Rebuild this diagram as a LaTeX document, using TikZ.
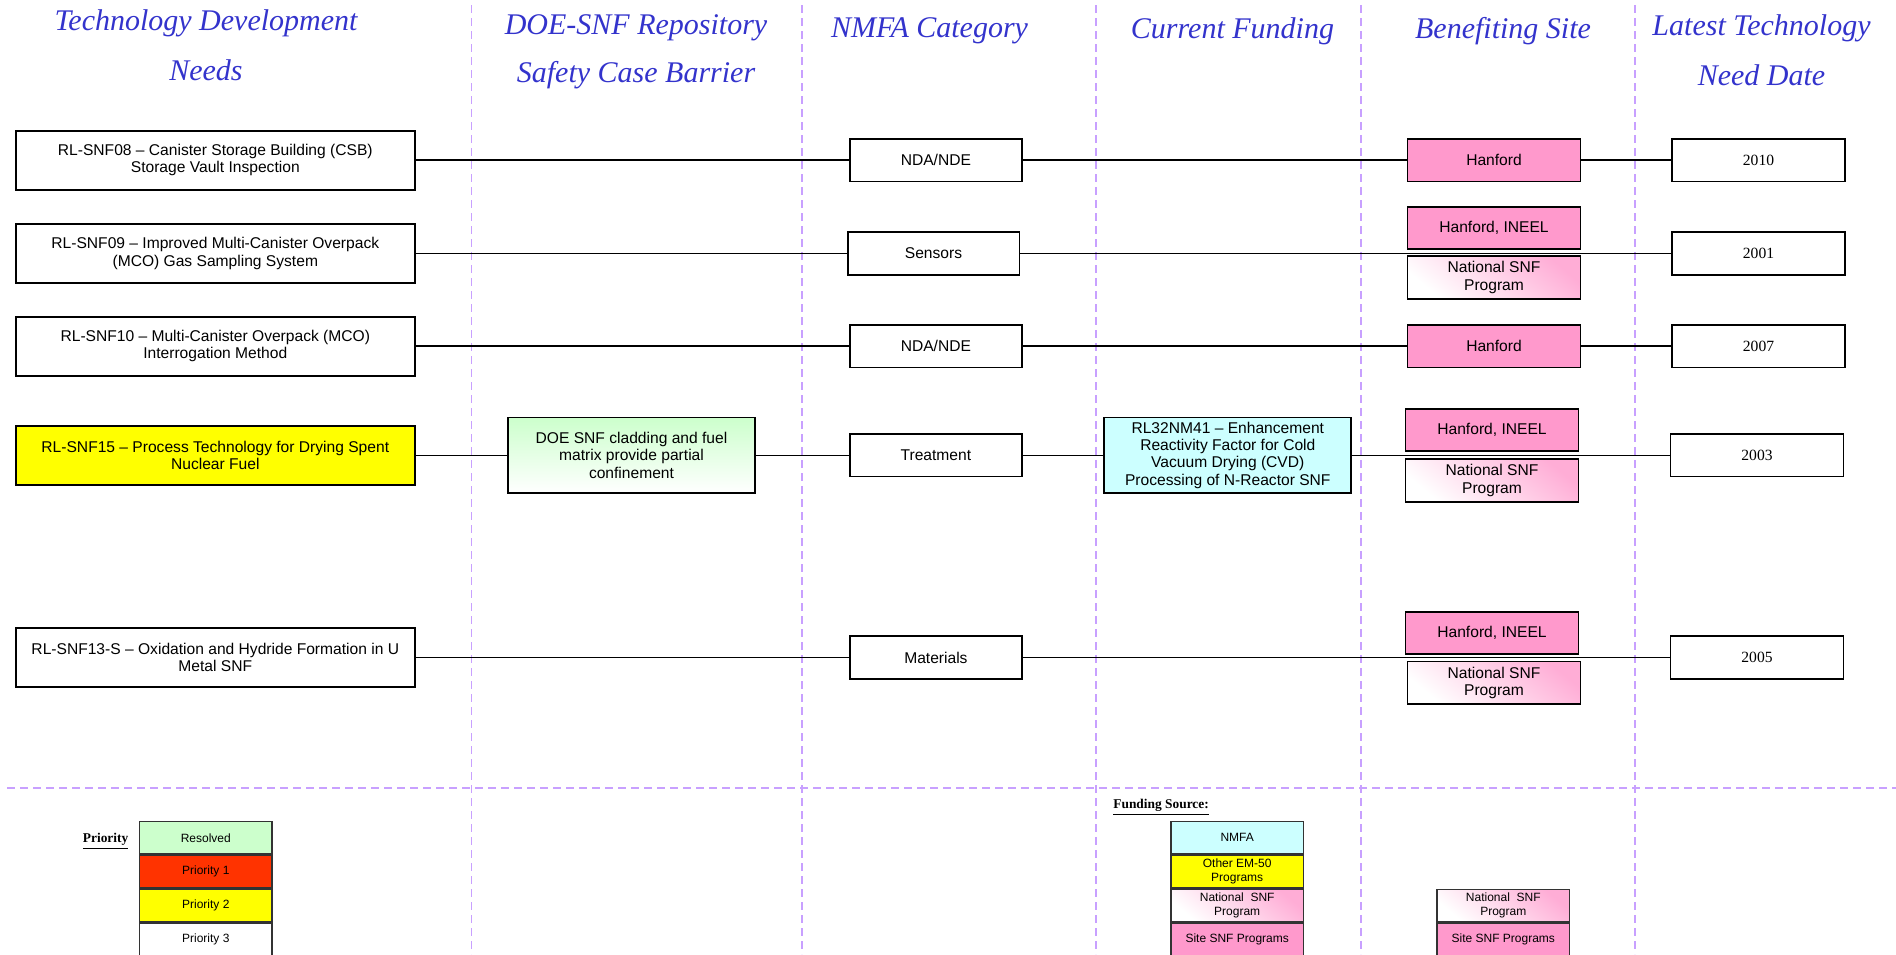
\documentclass[tikz,border=0pt]{standalone}
\usepackage{fontspec}
\setmainfont{Liberation Serif}
\setsansfont{Liberation Sans}
\definecolor{hdr}{RGB}{51,51,204}
\definecolor{guidec}{RGB}{200,160,255}
\definecolor{sitepink}{RGB}{255,153,204}
\definecolor{resgreen}{RGB}{204,255,204}
\definecolor{nmfacyan}{RGB}{204,255,255}
\definecolor{prio1}{RGB}{255,51,0}
\definecolor{prio2}{RGB}{255,255,0}
\begin{document}
\begin{tikzpicture}[x=0.5pt,y=-0.5pt,
  box/.style={draw=black, line width=0.9pt, inner sep=0pt, align=center,
    font=\sffamily\fontsize{7.8}{8.6}\selectfont},
  need/.style={box, minimum width=199.5pt, minimum height=29.6pt, fill=white},
  nmfa/.style={box, minimum width=85.9pt, minimum height=21.2pt, fill=white},
  site/.style={box, minimum width=86.5pt, minimum height=21.2pt, fill=sitepink},
  natl/.style={box, minimum width=86.5pt, minimum height=21.2pt,
    top color=sitepink!80, bottom color=white, shading angle=-40},
  datebox/.style={box, minimum width=86.5pt, minimum height=21.2pt, fill=white,
    font=\rmfamily\fontsize{7.8}{8.6}\selectfont},
  big/.style={box, minimum width=123.5pt, minimum height=37.8pt},
  leg/.style={draw=black!80, line width=0.8pt, inner sep=0pt, align=center,
    minimum width=66.2pt, minimum height=16.2pt,
    font=\sffamily\fontsize{6}{6.9}\selectfont},
  legnatl/.style={leg, top color=sitepink!80, bottom color=white, shading angle=-40},
  hdrtext/.style={font=\itshape\fontsize{15}{18}\selectfont, text=hdr, inner sep=0pt},
  legtitle/.style={font=\bfseries\fontsize{6.7}{8}\selectfont, inner sep=0pt},
  guide/.style={draw=guidec, line width=0.6pt, dash pattern=on 4pt off 2.5pt},
  conn/.style={draw=black, line width=0.75pt}
]
\useasboundingbox (0,0) rectangle (1896,954);
\clip (0,0) rectangle (1896,954);

% guides
\foreach \gx in {471.5,802,1096,1361,1635}
  \draw[guide] (\gx,5) -- (\gx,954);
\draw[guide] (7,788) -- (1896,788);

% headers
\node[hdrtext] (h1a) at (206,23) {Technology Development};
\node[hdrtext] (h1b) at (206,70) {Needs};
\node[hdrtext] (h2a) at (636,28) {DOE-SNF Repository};
\node[hdrtext] (h2b) at (636,75) {Safety Case Barrier};
\node[hdrtext] (h3) at (929.5,31) {NMFA Category};
\node[hdrtext] (h4) at (1232.5,31) {Current Funding};
\node[hdrtext] (h5) at (1503,31) {Benefiting Site};
\node[hdrtext] (h6a) at (1761.5,28) {Latest Technology};
\node[hdrtext] (h6b) at (1761.5,75) {Need Date};

% row 1
\node[need] (n1) at (215.3,160.2) {RL-SNF08 -- Canister Storage Building (CSB)\\Storage Vault Inspection};
\node[nmfa] (c1) at (935.9,160.2) {NDA/NDE};
\node[site] (s1) at (1494,160.2) {Hanford};
\node[datebox] (d1) at (1758.5,160.2) {2010};
\draw[conn] (n1) -- (c1);
\draw[conn] (c1) -- (s1);
\draw[conn] (s1) -- (d1);

% row 2
\node[need] (n2) at (215.3,253.5) {RL-SNF09 -- Improved Multi-Canister Overpack\\(MCO) Gas Sampling System};
\node[nmfa] (c2) at (933.5,253.5) {Sensors};
\node[site] (s2a) at (1494,228) {Hanford, INEEL};
\node[natl] (s2b) at (1494,277.5) {National SNF\\Program};
\node[datebox] (d2) at (1758.5,253.5) {2001};
\draw[conn] (n2) -- (c2);
\draw[conn] (c2) -- (d2);

% row 3
\node[need] (n3) at (215.3,346.2) {RL-SNF10 -- Multi-Canister Overpack (MCO)\\Interrogation Method};
\node[nmfa] (c3) at (935.9,346.2) {NDA/NDE};
\node[site] (s3) at (1494,346.2) {Hanford};
\node[datebox] (d3) at (1758.5,346.2) {2007};
\draw[conn] (n3) -- (c3);
\draw[conn] (c3) -- (s3);
\draw[conn] (s3) -- (d3);

% row 4
\node[need, fill=prio2] (n4) at (215.3,455.3) {RL-SNF15 -- Process Technology for Drying Spent\\Nuclear Fuel};
\node[big, top color=resgreen, bottom color=white] (b4) at (631.5,455.3) {DOE SNF cladding and fuel\\matrix provide partial\\confinement};
\node[nmfa] (c4) at (935.9,455.3) {Treatment};
\node[big, fill=nmfacyan] (f4) at (1227.8,455.3) {RL32NM41 -- Enhancement\\Reactivity Factor for Cold\\Vacuum Drying (CVD)\\Processing of N-Reactor SNF};
\node[site] (s4a) at (1492,430) {Hanford, INEEL};
\node[natl] (s4b) at (1492,480.5) {National SNF\\Program};
\node[datebox] (d4) at (1757,455.3) {2003};
\draw[conn] (n4) -- (b4);
\draw[conn] (b4) -- (c4);
\draw[conn] (c4) -- (f4);
\draw[conn] (f4) -- (d4);

% row 5
\node[need] (n5) at (215.3,657.5) {RL-SNF13-S -- Oxidation and Hydride Formation in U\\Metal SNF};
\node[nmfa] (c5) at (935.9,657.5) {Materials};
\node[site] (s5a) at (1492,633) {Hanford, INEEL};
\node[natl] (s5b) at (1494,682.6) {National SNF\\Program};
\node[datebox] (d5) at (1757,657.5) {2005};
\draw[conn] (n5) -- (c5);
\draw[conn] (c5) -- (d5);

% legend: priority
\node[legtitle] (pt) at (105.6,841) {\underline{Priority}};
\node[leg, fill=resgreen] (l1) at (205.8,837.7) {Resolved};
\node[leg, fill=prio1] (l2) at (205.8,871.5) {Priority 1};
\node[leg, fill=prio2] (l3) at (205.8,905.5) {Priority 2};
\node[leg, fill=white] (l4) at (205.8,939.5) {Priority 3};

% legend: funding
\node[legtitle, anchor=west] (ft) at (1113,807) {\underline{Funding Source:}};
\node[leg, fill=nmfacyan] (g1) at (1237.2,837.7) {NMFA};
\node[leg, fill=prio2] (g2) at (1237.2,871.5) {Other EM-50\\Programs};
\node[legnatl] (g3) at (1237.2,905.5) {National~ SNF\\Program};
\node[leg, fill=sitepink] (g4) at (1237.2,939.5) {Site SNF Programs};
\node[legnatl] (k3) at (1503.3,905.5) {National~ SNF\\Program};
\node[leg, fill=sitepink] (k4) at (1503.3,939.5) {Site SNF Programs};
\end{tikzpicture}
\end{document}
